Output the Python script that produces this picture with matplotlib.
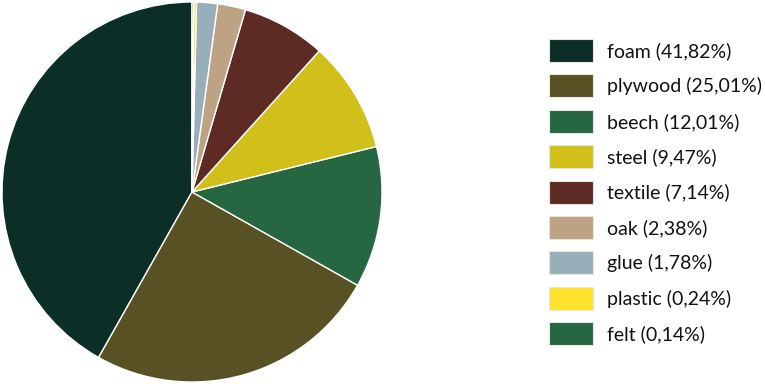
import matplotlib
matplotlib.use("Agg")
import matplotlib.pyplot as plt
from matplotlib.patches import Rectangle

plt.rcParams['font.family'] = ['Lato', 'DejaVu Sans']

materials = ["foam", "plywood", "beech", "steel", "textile", "oak", "glue", "plastic", "felt"]
shares = [41.82, 25.01, 12.01, 9.47, 7.14, 2.38, 1.78, 0.24, 0.14]
colors = ["#0b2e26", "#575124", "#266640", "#d1c019", "#5e2b24",
          "#bda383", "#98afbb", "#ffe32a", "#266640"]

W, H = 765, 384
fig = plt.figure(figsize=(W / 100, H / 100), dpi=100)
ax = fig.add_axes([2 / W, 2 / H, 380 / W, 380 / H])
ax.pie(shares, colors=colors, startangle=90, counterclock=True, radius=1,
       wedgeprops=dict(edgecolor="white", linewidth=1))
ax.set_xlim(-1, 1)
ax.set_ylim(-1, 1)
ax.set_aspect("equal")
ax.axis("off")

# legend drawn by hand, in pixel positions
labels = [f"{m} ({v:.2f}%)".replace(".", ",") for m, v in zip(materials, shares)]
top, pitch = 39, 35.4
for i, (lab, c) in enumerate(zip(labels, colors)):
    y0 = top + i * pitch
    fig.add_artist(Rectangle((549 / W, 1 - (y0 + 23) / H), 44 / W, 23 / H,
                             transform=fig.transFigure, facecolor=c,
                             edgecolor="#e6e6dc", linewidth=0.8))
    fig.text(607 / W, 1 - (y0 + 12) / H, lab, fontsize=14, color="#111111",
             ha="left", va="center")

fig.savefig("out.png", dpi=100)
